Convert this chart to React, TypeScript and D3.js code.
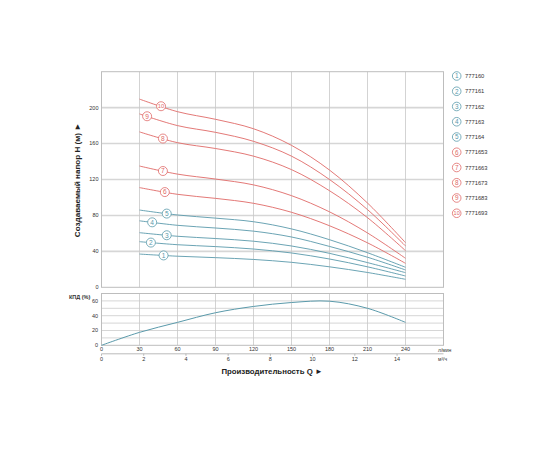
import React from "react";
import * as d3 from "d3";

// ---- data ----
const flowQ = [30, 60, 90, 120, 150, 180, 210, 240];
const models = ["777160", "777161", "777162", "777163", "777164", "7771653", "7771663", "7771673", "7771683", "7771693"];
const head1 = [37, 34.6, 33, 31, 27.8, 22.8, 16.5, 8.9];
const head2 = [50.8, 47.4, 45.3, 42.6, 38.2, 31.5, 22.8, 12.6];
const head3 = [60.8, 56.8, 54.3, 51.3, 46, 37.8, 27.5, 16.3];
const head4 = [74, 69, 66, 62.5, 56, 45.5, 33.5, 19.3];
const head5 = [86, 80.5, 77, 73, 65, 53, 38.5, 22.3];
const head6 = [111, 103.5, 99, 93.5, 83.5, 68.5, 49.5, 26.7];
const head7 = [135, 126, 120.5, 114, 102, 84, 60.5, 32.3];
const head8 = [173, 161, 154.5, 146, 131, 107.5, 77.5, 40.8];
const head9 = [193, 180, 172.5, 162.5, 146, 120, 86.5, 46];
const head10 = [209.5, 195.5, 187, 176.5, 158, 130.5, 93.8, 49.7];
const heads = [head1, head2, head3, head4, head5, head6, head7, head8, head9, head10];
const labelQ = [49, 39, 51.5, 40, 51.5, 50, 48.5, 48.5, 36, 47];

const effQ = [0, 30, 60, 90, 120, 150, 180, 210, 240];
const effV = [0, 17.5, 31, 44, 52.5, 57.8, 59.6, 50, 31];

const lpmTicks = [0, 30, 60, 90, 120, 150, 180, 210, 240];
const m3hTicks = [0, 2, 4, 6, 8, 10, 12, 14];
const headTicks = [0, 40, 80, 120, 160, 200];
const headGrid = [40, 80, 120, 160, 200];
const effTicks = [0, 20, 40, 60];
const effGrid = [10, 20, 30, 40, 50, 60];

const RED = "#e06a68";
const BLUE = "#5a9aab";
const GRID = "#d6d6d6";
const BORDER = "#bdbdbd";
const FONT = "'Liberation Sans', Arial, sans-serif";

export default function App() {
  const x = d3.scaleLinear().domain([0, 270]).range([101.5, 443.5]);
  const yH = d3.scaleLinear().domain([0, 240]).range([287.3, 71.7]);
  const yE = d3.scaleLinear().domain([0, 70]).range([345.3, 293.5]);

  const headLine = (vals: number[]) =>
    d3
      .line<number>()
      .x((_, i) => x(flowQ[i]))
      .y((v) => yH(v))
      .curve(d3.curveCatmullRom.alpha(0.5))(vals) as string;

  const effLine = d3
    .line<number>()
    .x((_, i) => x(effQ[i]))
    .y((v) => yE(v))
    .curve(d3.curveCatmullRom.alpha(0.5))(effV) as string;

  const gridV = lpmTicks.filter((q) => q > 0);
  const legendY = (i: number) => 76 + i * 15.25;

  return (
    <svg
      width={560}
      height={460}
      style={{ position: "absolute", left: 0, top: 0, background: "#fff" }}
      fontFamily={FONT}
    >
      {/* top chart grid */}
      {headGrid.map((h) => (
        <line key={"hg" + h} x1={x(0)} x2={x(270)} y1={yH(h)} y2={yH(h)} stroke={GRID} strokeWidth={1.6} />
      ))}
      {gridV.map((q) => (
        <line key={"vg" + q} x1={x(q)} x2={x(q)} y1={yH(240)} y2={yH(0)} stroke="#c8c8c8" strokeWidth={0.8} />
      ))}
      <rect x={x(0)} y={yH(240)} width={x(270) - x(0)} height={yH(0) - yH(240)} fill="none" stroke={BORDER} strokeWidth={1} />

      {/* bottom chart grid */}
      {effGrid.map((e) => (
        <line key={"eg" + e} x1={x(0)} x2={x(270)} y1={yE(e)} y2={yE(e)} stroke={GRID} strokeWidth={1} />
      ))}
      {gridV.map((q) => (
        <line key={"vge" + q} x1={x(q)} x2={x(q)} y1={yE(70)} y2={yE(0)} stroke="#c8c8c8" strokeWidth={0.8} />
      ))}
      <rect x={x(0)} y={yE(70)} width={x(270) - x(0)} height={yE(0) - yE(70)} fill="none" stroke={BORDER} strokeWidth={1} />

      {/* head y labels */}
      {headTicks.map((h) => (
        <text key={"ht" + h} x={98.5} y={yH(h)} dy="0.35em" textAnchor="end" fontSize={5.5} fill="#333">
          {h}
        </text>
      ))}
      {/* eff y labels */}
      {effTicks.map((e) => (
        <text key={"et" + e} x={98} y={yE(e)} dy="0.35em" textAnchor="end" fontSize={5.5} fill="#333">
          {e}
        </text>
      ))}
      <text x={69} y={299} fontSize={5.5} fontWeight="bold" fill="#333">
        КПД (%)
      </text>

      {/* x labels l/min */}
      {lpmTicks.map((q) => (
        <text key={"xl" + q} x={x(q)} y={349.5} dy="0.35em" textAnchor="middle" fontSize={5.5} fill="#333">
          {q}
        </text>
      ))}
      <line x1={x(0)} x2={x(270)} y1={353.8} y2={353.8} stroke="#aaa" strokeWidth={0.8} />
      {m3hTicks.map((m) => (
        <line key={"mt" + m} x1={x((m * 1000) / 60)} x2={x((m * 1000) / 60)} y1={353.8} y2={355.8} stroke="#aaa" strokeWidth={0.8} />
      ))}
      {m3hTicks.map((m) => (
        <text key={"ml" + m} x={x((m * 1000) / 60)} y={359} dy="0.35em" textAnchor="middle" fontSize={5.5} fill="#333">
          {m}
        </text>
      ))}
      <text x={438} y={350.5} dy="0.35em" fontSize={5} fill="#333">
        л/мин
      </text>
      <text x={438} y={359} dy="0.35em" fontSize={5} fill="#333">
        м³/ч
      </text>

      {/* axis titles */}
      <text
        transform="translate(80,180) rotate(-90)"
        textAnchor="middle"
        fontSize={8.1}
        fontWeight="bold"
        fill="#222"
      >
        Создаваемый напор H (м) ►
      </text>
      <text x={272} y={374} textAnchor="middle" fontSize={7.8} fontWeight="bold" fill="#222">
        Производительность Q ►
      </text>

      {/* efficiency curve */}
      <path d={effLine} fill="none" stroke={BLUE} strokeWidth={1} />

      {/* head curves */}
      {heads.map((vals, i) => (
        <path key={"c" + i} d={headLine(vals)} fill="none" stroke={i < 5 ? BLUE : RED} strokeWidth={0.9} />
      ))}
      {heads.map((vals, i) => {
        const f = d3.scaleLinear().domain(flowQ).range(vals);
        const col = i < 5 ? BLUE : RED;
        const cx = x(labelQ[i]);
        const cy = yH(f(labelQ[i]));
        return (
          <g key={"lb" + i}>
            <circle cx={cx} cy={cy} r={4.5} fill="#fff" stroke={col} strokeWidth={0.8} />
            <text x={cx} y={cy} dy="0.36em" textAnchor="middle" fontSize={i === 9 ? 5.8 : 6.6} fill={col}>
              {i + 1}
            </text>
          </g>
        );
      })}

      {/* legend */}
      {models.map((m, i) => {
        const col = i < 5 ? BLUE : RED;
        return (
          <g key={"lg" + i}>
            <circle cx={456.7} cy={legendY(i)} r={4.3} fill="#fff" stroke={col} strokeWidth={0.8} />
            <text x={456.7} y={legendY(i)} dy="0.36em" textAnchor="middle" fontSize={i === 9 ? 5.6 : 6.4} fill={col}>
              {i + 1}
            </text>
            <text x={465} y={legendY(i)} dy="0.36em" fontSize={5.8} fill="#333">
              {m}
            </text>
          </g>
        );
      })}
    </svg>
  );
}
